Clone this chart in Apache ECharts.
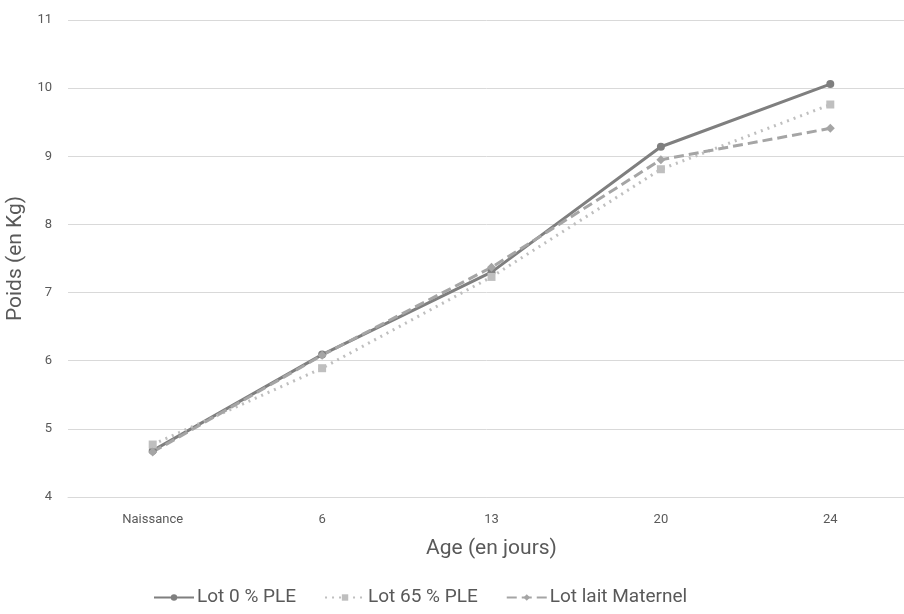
<!DOCTYPE html>
<html>
<head>
<meta charset="utf-8">
<script src="https://cdn.jsdelivr.net/npm/echarts@6/dist/echarts.min.js"></script>
<style>html,body{margin:0;padding:0;background:#fff}#c{width:904px;height:614px}</style>
</head>
<body>
<div id="c"></div>
<script>
const categories = ['Naissance', '6', '13', '20', '24'];
const lot0 = [4.68, 6.09, 7.30, 9.14, 10.06];
const lot65 = [4.77, 5.89, 7.23, 8.81, 9.76];
const lotLait = [4.66, 6.08, 7.37, 8.95, 9.41];
const yTicks = { min: 4, max: 11, interval: 1 };

const chart = echarts.init(document.getElementById('c'));
const font = 'Roboto, "Noto Sans", sans-serif';
chart.setOption({
  animation: false,
  textStyle: { fontFamily: font },
  grid: { left: 68, right: -11, top: 20, bottom: 117, outerBoundsMode: 'none', containLabel: false },
  xAxis: {
    type: 'category', data: categories, boundaryGap: true,
    name: 'Age (en jours)', nameLocation: 'middle', nameGap: 41,
    nameTextStyle: { color: '#595959', fontSize: 21 },
    axisLine: { lineStyle: { color: '#d9d9d9' } },
    axisTick: { show: false },
    axisLabel: { color: '#595959', fontSize: 13, margin: 16 }
  },
  yAxis: {
    type: 'value', min: yTicks.min, max: yTicks.max, interval: yTicks.interval,
    name: 'Poids (en Kg)', nameLocation: 'middle', nameGap: 34,
    nameTextStyle: { color: '#595959', fontSize: 21 },
    axisLine: { show: false }, axisTick: { show: false },
    axisLabel: { color: '#595959', fontSize: 13, margin: 16 },
    splitLine: { lineStyle: { color: '#d9d9d9' } }
  },
  legend: {
    bottom: 2, left: 148, itemWidth: 40, itemHeight: 8, itemGap: 28,
    textStyle: { color: '#595959', fontSize: 19, padding: [0, 0, 0, -2] },
    data: ['Lot 0 % PLE', 'Lot 65 % PLE', 'Lot lait Maternel']
  },
  series: [
    { name: 'Lot 0 % PLE', type: 'line', data: lot0, symbol: 'circle', symbolSize: 8,
      lineStyle: { color: '#7f7f7f', width: 3 }, itemStyle: { color: '#7f7f7f' } },
    { name: 'Lot 65 % PLE', type: 'line', data: lot65, symbol: 'rect', symbolSize: 8,
      lineStyle: { color: '#bfbfbf', width: 3, type: [2, 5] }, itemStyle: { color: '#bfbfbf' } },
    { name: 'Lot lait Maternel', type: 'line', data: lotLait, symbol: 'diamond', symbolSize: 9,
      lineStyle: { color: '#a5a5a5', width: 3, type: [10, 5] }, itemStyle: { color: '#a5a5a5' } }
  ]
});
</script>
</body>
</html>
